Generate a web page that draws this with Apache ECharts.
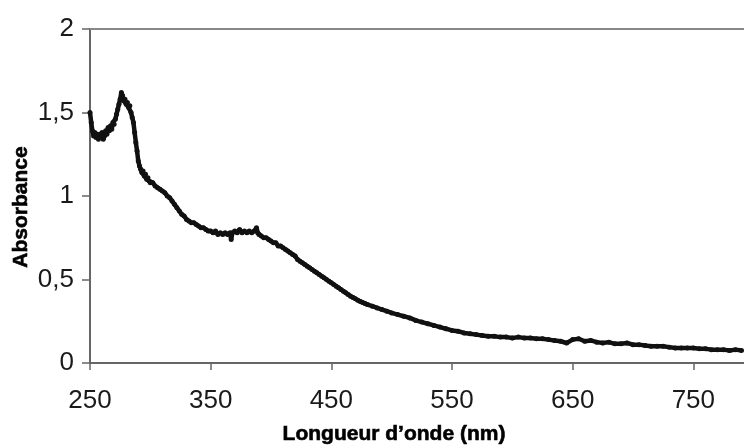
<!DOCTYPE html>
<html>
<head>
<meta charset="utf-8">
<script src="https://cdn.jsdelivr.net/npm/echarts@6/dist/echarts.min.js"></script>
<style>
html,body{margin:0;padding:0;background:#fff;}
#chart{width:744px;height:447px;}
</style>
</head>
<body>
<div id="chart"></div>
<script>
// Wavelength (nm)
var wavelengths = [
250,251,252,253,254,255,256,257,258,259,260,261,262,263,264,265,266,267,268,269,
270,271,272,273,274,275,276,277,278,279,280,281,282,283,284,285,286,287,288,289,
290,291,292,293,294,295,296,297,298,299,300,302,304,306,308,310,312,314,316,318,
320,322,324,326,328,330,332,334,336,338,340,342,344,346,348,350,352,354,356,358,
360,362,364,366,367,368,370,372,374,376,378,380,382,384,386,388,389,390,392,394,
396,398,400,402,404,406,408,410,412,414,416,418,420,422,424,426,428,430,432,434,
436,438,440,442,444,446,448,450,452,454,456,458,460,462,464,466,468,470,472,474,
476,478,480,484,488,492,496,500,505,510,515,520,525,530,535,540,545,550,555,560,
565,570,575,580,585,590,595,600,605,610,615,620,625,630,635,640,645,650,655,660,
665,670,675,680,685,690,695,700,705,710,715,720,725,730,735,740,745,750,755,760,
765,770,775,780,785,790
];
// Absorbance
var absorbance = [
1.50,1.44,1.39,1.36,1.38,1.35,1.37,1.34,1.37,1.35,1.38,1.34,1.36,1.39,1.37,1.41,1.39,1.42,1.40,1.44,
1.43,1.46,1.49,1.52,1.55,1.58,1.62,1.60,1.57,1.58,1.55,1.56,1.53,1.54,1.50,1.47,1.44,1.38,1.32,1.27,
1.21,1.18,1.16,1.14,1.15,1.12,1.13,1.10,1.11,1.09,1.08,1.08,1.06,1.05,1.04,1.03,1.02,1.00,0.99,0.97,
0.95,0.93,0.91,0.89,0.88,0.86,0.85,0.84,0.84,0.83,0.82,0.81,0.81,0.80,0.79,0.79,0.78,0.79,0.77,0.78,
0.77,0.78,0.77,0.78,0.74,0.78,0.79,0.78,0.80,0.78,0.79,0.78,0.79,0.78,0.79,0.81,0.78,0.77,0.76,0.75,
0.75,0.74,0.73,0.72,0.72,0.70,0.70,0.69,0.68,0.67,0.66,0.65,0.64,0.62,0.61,0.60,0.59,0.58,0.57,0.56,
0.55,0.54,0.53,0.52,0.51,0.50,0.49,0.48,0.47,0.46,0.45,0.44,0.43,0.42,0.41,0.40,0.392,0.384,0.376,0.369,
0.362,0.356,0.35,0.34,0.33,0.32,0.31,0.30,0.29,0.28,0.27,0.255,0.245,0.235,0.225,0.215,0.205,0.195,0.19,0.18,
0.175,0.17,0.165,0.16,0.16,0.155,0.155,0.15,0.155,0.15,0.15,0.145,0.145,0.14,0.135,0.13,0.12,0.14,0.145,0.13,
0.135,0.125,0.12,0.125,0.115,0.115,0.12,0.11,0.11,0.105,0.10,0.10,0.10,0.095,0.09,0.09,0.09,0.09,0.085,0.085,
0.08,0.08,0.08,0.075,0.08,0.075
];
var xTicks = [250, 350, 450, 550, 650, 750];
var yTicks = [0, 0.5, 1, 1.5, 2];
var xTitle = 'Longueur d\u2019onde (nm)';
var yTitle = 'Absorbance';

var seriesData = wavelengths.map(function (w, i) { return [w, absorbance[i]]; });

var chart = echarts.init(document.getElementById('chart'), null, {renderer: 'canvas'});
var FONT = '"Liberation Sans", Arial, sans-serif';
chart.setOption({
  animation: false,
  backgroundColor: '#ffffff',
  grid: {left: 90, right: 0, top: 29, bottom: 84, containLabel: false},
  xAxis: [{
    type: 'value',
    min: 250,
    max: 792,
    position: 'bottom',
    axisLine: {show: true, lineStyle: {color: '#666', width: 2}},
    axisTick: {show: true, length: 7, customValues: xTicks, lineStyle: {color: '#666', width: 1.5}},
    axisLabel: {show: true, customValues: xTicks, margin: 25, color: '#1a1a1a', fontSize: 26, fontFamily: FONT},
    splitLine: {show: false}
  }, {
    type: 'value',
    min: 250,
    max: 792,
    position: 'top',
    axisLine: {show: true, lineStyle: {color: '#888', width: 2}},
    axisTick: {show: false},
    axisLabel: {show: false},
    splitLine: {show: false}
  }],
  yAxis: {
    type: 'value',
    min: 0,
    max: 2,
    interval: 0.5,
    axisLine: {show: true, lineStyle: {color: '#666', width: 2}},
    axisTick: {show: true, length: 8, customValues: yTicks, lineStyle: {color: '#666', width: 1.5}},
    axisLabel: {
      show: true, margin: 16, color: '#1a1a1a', fontSize: 26, fontFamily: FONT,
      customValues: yTicks,
      formatter: function (v) { return String(v).replace('.', ','); }
    },
    splitLine: {show: false}
  },
  graphic: [
    {type: 'text', x: 394, y: 434, style: {text: xTitle, font: 'bold 21px ' + FONT, fill: '#000', align: 'center', verticalAlign: 'middle', stroke: '#000', lineWidth: 0.6}},
    {type: 'text', x: 21, y: 207, rotation: Math.PI / 2, style: {text: yTitle, font: 'bold 21px ' + FONT, fill: '#000', align: 'center', verticalAlign: 'middle', stroke: '#000', lineWidth: 0.6}}
  ],
  series: [{
    type: 'line',
    xAxisIndex: 0,
    yAxisIndex: 0,
    data: seriesData,
    showSymbol: true,
    symbol: 'circle',
    symbolSize: 5,
    itemStyle: {color: '#111'},
    lineStyle: {color: '#111', width: 4.5},
    clip: true
  }]
});
</script>
</body>
</html>
